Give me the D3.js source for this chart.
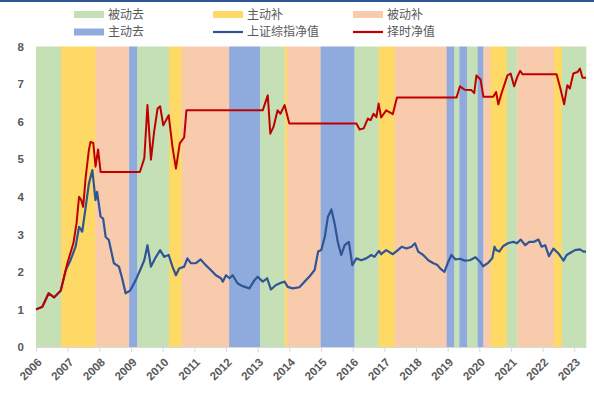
<!DOCTYPE html>
<html><head><meta charset="utf-8">
<script src="https://cdn.jsdelivr.net/npm/d3@7"></script>
<style>
html,body{margin:0;padding:0;background:#fff;}
svg{display:block;font-family:"Noto Sans CJK SC","Noto Sans",sans-serif;}
</style></head>
<body><svg id="c" width="594" height="393"></svg>
<script>
// ---- data ----
const yearTicks = d3.range(2006, 2024);
const yTicks = [0,1,2,3,4,5,6,7,8];
const phaseNames = ["被动去","主动补","被动补","主动去"];
const phaseColors = ["#C5E0B4","#FFD966","#F8CBAD","#8FAADC"];
// band boundaries (decimal years) and phase index of each band
const bandBounds = [2006.0,2006.79,2007.88,2008.94,2009.2,2010.2,2010.6,2012.1,2013.08,2013.85,2013.93,2014.99,2016.06,2016.82,2017.33,2018.97,2019.21,2019.37,2019.62,2019.95,2020.13,2020.36,2020.87,2021.2,2022.36,2022.61,2023.37];
const bandPhase  = [0,1,2,3,0,1,2,3,0,1,2,3,0,1,2,3,0,3,0,3,2,1,0,2,1,0];

// 上证综指净值
const idxT = [2006.0,2006.2,2006.4,2006.57,2006.78,2006.94,2007.09,2007.25,2007.36,2007.46,2007.57,2007.67,2007.78,2007.88,2007.93,2008.04,2008.12,2008.2,2008.3,2008.46,2008.62,2008.72,2008.83,2008.97,2009.15,2009.31,2009.42,2009.52,2009.63,2009.79,2009.92,2010.05,2010.19,2010.31,2010.42,2010.52,2010.68,2010.78,2010.89,2011.05,2011.2,2011.36,2011.52,2011.68,2011.84,2011.9,2012.0,2012.11,2012.21,2012.37,2012.53,2012.74,2012.9,2013.0,2013.16,2013.3,2013.42,2013.58,2013.74,2013.85,2013.95,2014.1,2014.32,2014.48,2014.63,2014.8,2014.91,2015.01,2015.12,2015.22,2015.33,2015.43,2015.54,2015.64,2015.75,2015.88,2015.99,2016.12,2016.27,2016.43,2016.59,2016.69,2016.83,2016.9,2017.06,2017.27,2017.43,2017.55,2017.7,2017.86,2017.97,2018.07,2018.23,2018.39,2018.55,2018.68,2018.79,2018.9,2019.02,2019.12,2019.25,2019.39,2019.54,2019.7,2019.88,2020.02,2020.12,2020.28,2020.41,2020.48,2020.53,2020.63,2020.76,2020.92,2021.08,2021.19,2021.31,2021.45,2021.58,2021.73,2021.87,2021.97,2022.08,2022.2,2022.34,2022.5,2022.66,2022.76,2022.88,2023.02,2023.18,2023.29,2023.37];
const idxV = [1.0,1.07,1.43,1.32,1.5,2.05,2.31,2.67,3.2,3.07,3.73,4.35,4.71,3.91,4.13,3.47,3.42,2.93,2.85,2.23,2.14,1.83,1.43,1.5,1.78,2.09,2.31,2.71,2.14,2.4,2.58,2.4,2.45,2.14,1.91,2.09,2.14,2.36,2.23,2.23,2.33,2.18,2.05,1.91,1.83,1.74,1.91,1.83,1.91,1.69,1.62,1.56,1.78,1.87,1.74,1.83,1.53,1.65,1.71,1.74,1.6,1.56,1.59,1.74,1.87,2.05,2.54,2.58,2.93,3.47,3.66,3.29,2.76,2.45,2.71,2.8,2.18,2.36,2.31,2.36,2.45,2.4,2.56,2.47,2.58,2.47,2.58,2.67,2.62,2.67,2.76,2.54,2.45,2.31,2.23,2.18,2.07,2.0,2.27,2.45,2.33,2.35,2.3,2.31,2.39,2.27,2.15,2.24,2.36,2.67,2.58,2.54,2.69,2.77,2.8,2.76,2.86,2.71,2.8,2.8,2.86,2.67,2.71,2.42,2.62,2.49,2.3,2.45,2.51,2.58,2.6,2.54,2.54];

// 择时净值
const timT = [2006.0,2006.2,2006.4,2006.57,2006.78,2006.94,2006.99,2007.18,2007.28,2007.36,2007.43,2007.49,2007.57,2007.67,2007.72,2007.81,2007.88,2007.96,2008.04,2009.28,2009.42,2009.52,2009.63,2009.73,2009.84,2009.92,2010.02,2010.19,2010.31,2010.42,2010.54,2010.68,2010.75,2013.16,2013.32,2013.4,2013.5,2013.63,2013.72,2013.85,2014.0,2016.12,2016.22,2016.35,2016.48,2016.57,2016.66,2016.75,2016.82,2016.9,2017.06,2017.27,2017.4,2019.28,2019.39,2019.54,2019.75,2019.84,2019.91,2020.04,2020.13,2020.44,2020.53,2020.6,2020.7,2020.89,2020.99,2021.1,2021.2,2021.29,2021.37,2022.44,2022.55,2022.68,2022.78,2022.86,2022.97,2023.1,2023.18,2023.26,2023.37];
const timV = [1.0,1.07,1.43,1.32,1.5,2.05,2.23,2.76,3.29,4.0,3.91,3.73,4.53,5.24,5.46,5.43,4.8,5.26,4.66,4.66,5.02,6.44,4.99,5.73,6.35,6.41,5.9,6.17,5.33,4.75,5.42,5.58,6.3,6.3,6.7,5.68,5.86,6.3,6.21,6.44,5.95,5.95,5.79,5.82,6.08,6.04,6.21,6.12,6.48,6.11,6.3,6.2,6.64,6.64,6.94,6.85,6.84,6.76,7.23,7.12,6.66,6.66,6.79,6.46,6.75,7.23,7.28,6.94,7.19,7.35,7.26,7.26,6.92,6.46,6.97,6.88,7.28,7.32,7.41,7.17,7.17];

// ---- drawing ----
const svg = d3.select("#c");
const x = d3.scaleLinear().domain([2006, 2023.37]).range([36, 586]);
const y = d3.scaleLinear().domain([0, 8]).range([347, 46.5]);

// top border line
svg.append("rect").attr("x",0).attr("y",0).attr("width",594).attr("height",2).attr("fill","#2F5597");

// bands
const bands = bandPhase.map((p,i)=>({s:bandBounds[i], e:bandBounds[i+1], p}));
svg.append("g").selectAll("rect").data(bands).join("rect")
  .attr("x", d=>x(d.s)).attr("width", d=>x(d.e)-x(d.s)+0.3)
  .attr("y", y(8)).attr("height", y(0)-y(8))
  .attr("fill", d=>phaseColors[d.p]);

// x axis
const xAxis = d3.axisBottom(x).tickValues(yearTicks).tickFormat(d3.format("d")).tickSize(5).tickSizeOuter(0);
const gx = svg.append("g").attr("transform",`translate(0,${y(0)})`).call(xAxis);
gx.select(".domain").attr("stroke","#D9D9D9");
gx.selectAll(".tick line").attr("stroke","#D9D9D9");
gx.selectAll(".tick text")
  .attr("font-size",11.5).attr("font-weight","bold").attr("fill","#595959")
  .attr("text-anchor","end").attr("dy",null).attr("y",0)
  .attr("transform","translate(6,16) rotate(-45)");

// y axis
const yAxis = d3.axisLeft(y).tickValues(yTicks).tickSize(0).tickPadding(0);
const gy = svg.append("g").attr("transform","translate(24,0)").call(yAxis);
gy.select(".domain").remove();
gy.selectAll(".tick text").attr("font-size",11.5).attr("font-weight","bold").attr("fill","#595959");

// lines
const line = d3.line().x(d=>x(d[0])).y(d=>y(d[1]));
svg.append("path").datum(idxT.map((t,i)=>[t,idxV[i]]))
  .attr("d",line).attr("fill","none").attr("stroke","#2F5597").attr("stroke-width",2.2).attr("stroke-linejoin","round");
svg.append("path").datum(timT.map((t,i)=>[t,timV[i]]))
  .attr("d",line).attr("fill","none").attr("stroke","#C00000").attr("stroke-width",2).attr("stroke-linejoin","round");

// legend
const legendItems = [
  {name:phaseNames[0], type:"rect", color:phaseColors[0], lx:74, ly:14.5},
  {name:phaseNames[1], type:"rect", color:phaseColors[1], lx:213, ly:14.5},
  {name:phaseNames[2], type:"rect", color:phaseColors[2], lx:353, ly:14.5},
  {name:phaseNames[3], type:"rect", color:phaseColors[3], lx:74, ly:32},
  {name:"上证综指净值", type:"line", color:"#2F5597", lx:213, ly:32},
  {name:"择时净值", type:"line", color:"#C00000", lx:353, ly:32}
];
const lg = svg.append("g").selectAll("g").data(legendItems).join("g")
  .attr("transform", d=>`translate(${d.lx},${d.ly})`);
lg.filter(d=>d.type==="rect").append("rect").attr("x",0).attr("y",-3.5).attr("width",30).attr("height",7).attr("fill",d=>d.color);
lg.filter(d=>d.type==="line").append("line").attr("x1",0).attr("x2",30).attr("y1",0).attr("y2",0).attr("stroke",d=>d.color).attr("stroke-width",2.2);
lg.append("text").attr("x",34).attr("y",0).attr("dy","0.35em").attr("font-size",12).attr("fill","#595959").text(d=>d.name);
</script></body></html>
